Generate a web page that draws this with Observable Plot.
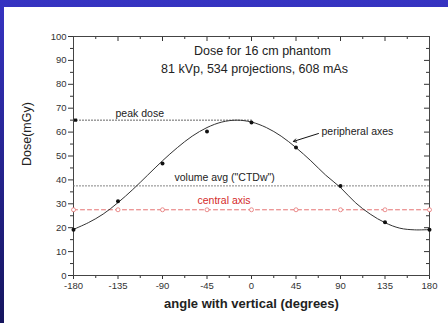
<!DOCTYPE html>
<html><head><meta charset="utf-8">
<script src="https://cdn.jsdelivr.net/npm/d3@7"></script>
<script src="https://cdn.jsdelivr.net/npm/@observablehq/plot@0.6"></script>
<style>
html{margin:0;padding:0;overflow:hidden;
  background:linear-gradient(#fff,#fff) 4px 7px / 3000px 3000px no-repeat, linear-gradient(#3633c2,#15155e) 0 0 / 100% 323px repeat-x;}
body{margin:0;padding:0;overflow:hidden;background:transparent;}
#panel{position:absolute;left:4px;top:7px;width:444px;height:316px;background:#fff;}
#panel svg{display:block;max-width:none !important;}
</style></head><body><div id="panel"></div>
<script>
// measured peripheral-axis points
const angles = [-180, -135, -90, -45, 0, 45, 90, 135, 180];
const peripheral = [19.1, 31.1, 46.9, 60.3, 64, 53.6, 37.4, 22.3, 19.1];
const central = [27.5, 27.5, 27.5, 27.5, 27.5, 27.5, 27.5, 27.5, 27.5];
// fitted curve
const curveAngles = [-180,-165,-150,-135,-120,-105,-90,-75,-60,-45,-30,-15,0,15,30,45,60,75,90,105,120,135,150,165,180];
const curveValues = [19.3,22.1,25.7,30.5,36.0,42.0,48.0,53.5,58.3,61.9,64.2,65.0,64.2,61.9,58.3,53.5,48.0,42.0,36.8,30.5,25.7,22.1,19.8,19.1,19.2];
const peakDose = 65;
const volumeAvg = 37.5;
const peakSpan = [-180, 0];
const fullSpan = [-180, 180];
const xTicks = [-180, -135, -90, -45, 0, 45, 90, 135, 180];
const xMinor = [-157.5, -112.5, -67.5, -22.5, 22.5, 67.5, 112.5, 157.5];
const yTicks = [0, 10, 20, 30, 40, 50, 60, 70, 80, 90, 100];
const yMinor = [5, 15, 25, 35, 45, 55, 65, 75, 85, 95];
const titleLines = ["Dose for 16 cm phantom", "81 kVp, 534 projections, 608 mAs"];

const pts = angles.map((a, i) => ({a, p: peripheral[i], c: central[i]}));
const curve = curveAngles.map((a, i) => ({a, v: curveValues[i]}));
const font = "Liberation Sans, Arial, sans-serif";
const axc = "#333";
const fmt = d => String(d);
const none = () => "";

const chart = Plot.plot({
  width: 444, height: 316,
  marginLeft: 69, marginRight: 19, marginTop: 29, marginBottom: 48,
  style: {fontFamily: font, background: "white", color: axc},
  x: {domain: [-180, 180]},
  y: {domain: [0, 100]},
  marks: [
    Plot.axisY({ticks: yTicks, tickSize: 5, tickPadding: 2, fontSize: 9.5, tickFormat: fmt, label: null, stroke: axc}),
    Plot.axisY({ticks: yMinor, tickSize: 3, tickFormat: none, label: null, stroke: axc}),
    Plot.axisY({anchor: "left", frameAnchor: "right", ticks: yTicks, tickSize: 5, tickFormat: none, label: null, stroke: axc}),
    Plot.axisY({anchor: "left", frameAnchor: "right", ticks: yMinor, tickSize: 3, tickFormat: none, label: null, stroke: axc}),
    Plot.axisX({ticks: xTicks, tickSize: 4, tickPadding: 3, fontSize: 9.5, tickFormat: fmt, label: null, stroke: axc}),
    Plot.axisX({ticks: xMinor, tickSize: 3, tickFormat: none, label: null, stroke: axc}),
    Plot.axisX({anchor: "bottom", frameAnchor: "top", ticks: xTicks, tickSize: 5, tickFormat: none, label: null, stroke: axc}),
    Plot.axisX({anchor: "bottom", frameAnchor: "top", ticks: xMinor, tickSize: 3, tickFormat: none, label: null, stroke: axc}),
    Plot.frame({stroke: "#444"}),
    // reference lines
    Plot.line(peakSpan, {x: d => d, y: () => peakDose, stroke: "#555", strokeWidth: 1, strokeDasharray: "1,2"}),
    Plot.line(fullSpan, {x: d => d, y: () => volumeAvg, stroke: "#777", strokeWidth: 1, strokeDasharray: "1,2"}),
    Plot.dot([peakSpan[0]], {x: d => d, y: () => peakDose, symbol: "square", r: 1.8, fill: "#111", dx: 2}),
    // central axis
    Plot.line(pts, {x: "a", y: "c", stroke: "#e57373", strokeWidth: 1, strokeDasharray: "4,3"}),
    Plot.dot(pts, {x: "a", y: "c", r: 2, stroke: "#e57373", fill: "white", strokeWidth: 0.8}),
    // peripheral
    Plot.line(curve, {x: "a", y: "v", curve: "catmull-rom", stroke: "#333", strokeWidth: 1}),
    Plot.dot(pts, {x: "a", y: "p", r: 2, fill: "#111"}),
    // annotations
    Plot.text(titleLines.slice(0, 1), {x: 11, y: 94, text: d => d, fontSize: 12.5, fill: "#222"}),
    Plot.text(titleLines.slice(1), {x: 3, y: 86.6, text: d => d, fontSize: 12.5, fill: "#222"}),
    Plot.text(["peak dose"], {x: -137.5, y: 67.8, text: d => d, textAnchor: "start", fontSize: 10.5, fill: "#222", letterSpacing: "-0.3px"}),
    Plot.text(["peripheral axes"], {x: 70.8, y: 60.3, text: d => d, textAnchor: "start", fontSize: 10.5, fill: "#222", letterSpacing: "-0.2px"}),
    Plot.arrow([0], {x1: () => 67.7, y1: () => 59.4, x2: () => 42.4, y2: () => 56.1, stroke: "#111", strokeWidth: 1, headLength: 5, inset: 0}),
    Plot.text(["volume avg (\"CTDw\")"], {x: -77.9, y: 41, text: d => d, textAnchor: "start", fontSize: 10.5, fill: "#222", letterSpacing: "-0.2px"}),
    Plot.text(["central axis"], {x: -54.6, y: 31.4, text: d => d, textAnchor: "start", fontSize: 10.5, fill: "#d42a2a", letterSpacing: "-0.2px"}),
    Plot.text(["Dose(mGy)"], {frameAnchor: "left", text: d => d, rotate: -90, dx: -47, dy: 10, fontSize: 12.5, fill: "#222"}),
    Plot.text(["angle with vertical (degrees)"], {frameAnchor: "bottom", text: d => d, dy: 32, fontSize: 13, fontWeight: "bold", fill: "#222"})
  ]
});
document.getElementById("panel").appendChild(chart);
</script></body></html>
